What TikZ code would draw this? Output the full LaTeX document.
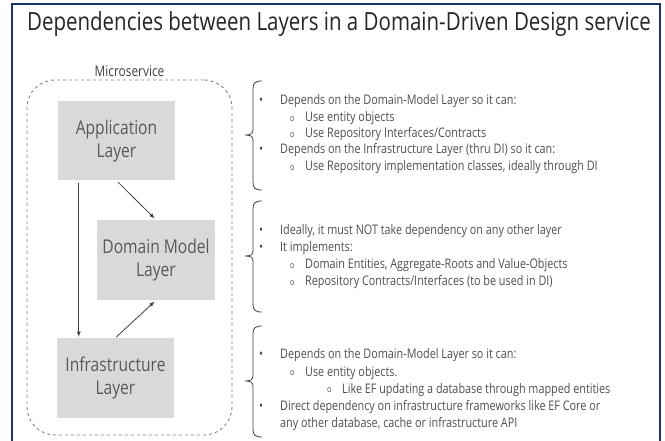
\documentclass[tikz,border=0pt]{standalone}
\usepackage{fontspec}
\setmainfont{Open Sans}[FakeStretch=0.82]
\usepackage{tikz}
\usetikzlibrary{arrows.meta}
\usetikzlibrary{positioning}
\definecolor{framenavy}{HTML}{1B3470}
\definecolor{boxgray}{HTML}{D9D9D9}
\definecolor{txtgray}{HTML}{595959}
\definecolor{notegray}{HTML}{505050}
\definecolor{dashgray}{HTML}{7F7F99}
\definecolor{arrowgray}{HTML}{404040}
\tikzset{>=latex}
\tikzstyle{layer} = [rectangle, fill=boxgray, draw=none, text=txtgray, align=center, minimum width=117pt, minimum height=79pt, font=\fontsize{19}{23}\selectfont]
\tikzstyle{dep} = [-latex, draw=arrowgray, line width=0.8pt]
\tikzstyle{line} = [anchor=base west, inner sep=0, text=notegray, font=\fontsize{13.2}{16}\selectfont]
\tikzstyle{brace} = [draw=arrowgray, line width=0.8pt]
\newcommand{\bpoint}[1]{\makebox[21pt][l]{\textbullet}#1}
\newcommand{\spoint}[1]{\makebox[15pt][l]{\raisebox{0.5pt}{\fontsize{9}{9}\selectfont o}}#1}
% top, tip, bottom of a bracket
\newcommand{\layerbrace}[3]{%
  \draw[brace] (262,#1) .. controls (255,#1) and (253,#1+2) .. (253,#1+8) -- (253,#2-5)
    .. controls (253,#2-1) and (250,#2) .. (245,#2)
    .. controls (250,#2) and (253,#2+1) .. (253,#2+5) -- (253,#3-8)
    .. controls (253,#3-2) and (255,#3) .. (262,#3);}

\begin{document}
\begin{tikzpicture}[x=1pt, y=-1pt]
\useasboundingbox (0,0) rectangle (665,441);
\fill[white] (0,0) rectangle (665,441);
% frame
\draw[framenavy, line width=2pt] (12,441) -- (12,4) -- (660,4) -- (660,441);
\node [anchor=base, text=black!85, font=\fontsize{25}{30}\selectfont] (title) at (339,31) {Dependencies between Layers in a Domain-Driven Design service};

% microservice and its layers
\node [draw=dashgray, dashed, rounded corners=28pt, line width=0.9pt, minimum width=205pt, minimum height=355pt] (ms) at (129.5,257.5) {};
\node [above=1pt of ms, text=black!75, font=\fontsize{14.5}{17}\selectfont, inner sep=2pt] (mslabel) {Microservice};
\node [layer] (app) at (116.5,141) {Application\\Layer};
\node [layer, minimum width=118pt, minimum height=80pt] (dom) at (156,260) {Domain Model\\Layer};
\node [layer, minimum height=80pt] (infra) at (115.5,378) {Infrastructure\\Layer};
\draw [dep, shorten <=2pt, shorten >=2pt] (app.south) to (dom.north);
\draw [dep, shorten <=2pt, shorten >=1pt] ([xshift=21pt]app.south west) to ([xshift=21pt]app.south west |- infra.north);
\draw [dep, shorten <=1pt, shorten >=2pt] (infra.north) to (dom.south);

% application layer notes
\layerbrace{81}{135}{190}
\node [line] (a1) at (259,105) {\bpoint{Depends on the Domain-Model Layer so it can:}};
\node [line] (a2) at (290,122) {\spoint{Use entity objects}};
\node [line] (a3) at (290,138) {\spoint{Use Repository Interfaces/Contracts}};
\node [line] (a4) at (259,154) {\bpoint{Depends on the Infrastructure Layer (thru DI) so it can:}};
\node [line] (a5) at (290,171) {\spoint{Use Repository implementation classes, ideally through DI}};

% domain model layer notes
\layerbrace{201}{256}{312}
\node [line] (d1) at (259,235) {\bpoint{Ideally, it must NOT take dependency on any other layer}};
\node [line] (d2) at (259,252) {\bpoint{It implements:}};
\node [line] (d3) at (290,269) {\spoint{Domain Entities, Aggregate-Roots and Value-Objects}};
\node [line] (d4) at (290,286) {\spoint{Repository Contracts/Interfaces (to be used in DI)}};

% infrastructure layer notes
\layerbrace{326}{381}{437}
\node [line] (i1) at (259,359) {\bpoint{Depends on the Domain-Model Layer so it can:}};
\node [line] (i2) at (290,376) {\spoint{Use entity objects.}};
\node [line] (i3) at (327,393) {\spoint{Like EF updating a database through mapped entities}};
\node [line] (i4) at (259,410) {\bpoint{Direct dependency on infrastructure frameworks like EF Core or}};
\node [line] (i5) at (280,427) {any other database, cache or infrastructure API};
\end{tikzpicture}
\end{document}
